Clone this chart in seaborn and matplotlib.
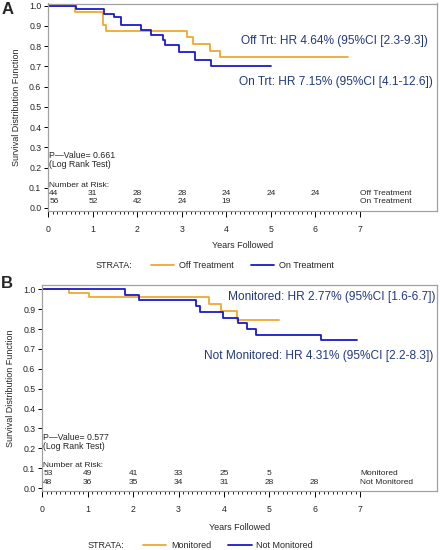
import numpy as np
import pandas as pd
import seaborn as sns
import matplotlib
matplotlib.use("Agg")
import matplotlib.pyplot as plt
from matplotlib.lines import Line2D

# ---------------- data ----------------
a_off_t = [0, 0.60, 1.22, 1.29, 3.11, 3.24, 3.63, 3.86, 6.74]
a_off_s = [1.0, 0.970, 0.907, 0.875, 0.845, 0.812, 0.778, 0.748, 0.748]
a_on_t = [0, 0.62, 1.26, 1.47, 1.64, 2.09, 2.30, 2.58, 2.62, 2.94, 3.30, 3.65, 5.01]
a_on_s = [1.0, 0.983, 0.961, 0.944, 0.905, 0.880, 0.856, 0.829, 0.804, 0.770, 0.733, 0.700, 0.700]

b_mon_t = [0, 0.59, 1.03, 3.68, 3.94, 4.28, 5.22]
b_mon_s = [1.0, 0.982, 0.962, 0.926, 0.890, 0.848, 0.848]
b_not_t = [0, 1.82, 2.13, 3.38, 3.47, 3.97, 4.30, 4.50, 4.71, 6.13, 6.93]
b_not_s = [1.0, 0.974, 0.947, 0.918, 0.886, 0.856, 0.830, 0.800, 0.772, 0.745, 0.745]

a_groups = ["Off Treatment", "On Treatment"]
b_groups = ["Monitored", "Not Monitored"]

a_risk_off = [44, 31, 28, 28, 24, 24, 24]
a_risk_on = [56, 52, 42, 24, 19]
b_risk_mon = [53, 49, 41, 33, 25, 5]
b_risk_not = [48, 36, 35, 34, 31, 28, 28]

a_pval = "0.661"
b_pval = "0.577"
a_hr = ["Off Trt: HR 4.64% (95%CI [2.3-9.3])", "On Trt: HR 7.15% (95%CI [4.1-12.6])"]
b_hr = ["Monitored: HR 2.77% (95%CI [1.6-6.7])", "Not Monitored: HR 4.31% (95%CI [2.2-8.3])"]

# ---------------- style ----------------
sns.set_style("ticks")
plt.rcParams['font.family'] = ['Liberation Sans', 'DejaVu Sans']

ORANGE = "#f0a830"
BLUE = "#1a1ac8"
NAVY = "#22397d"
GREY = "#a0a0a0"

fig = plt.figure(figsize=(4.4, 5.5), dpi=100)


def make_df(t1, s1, t2, s2, groups):
    return pd.concat([
        pd.DataFrame({"t": t1, "s": s1, "g": groups[0]}),
        pd.DataFrame({"t": t2, "s": s2, "g": groups[1]}),
    ], ignore_index=True)


def panel(rect, df, groups, xmax, ytop, pval, risk1, risk2, hr, hr_pos,
          ytxt, label, label_xy, xlab_y, leg_y, strata_x, leg_x):
    ax = fig.add_axes(rect)
    sns.lineplot(data=df, x="t", y="s", hue="g", hue_order=groups,
                 palette=[ORANGE, BLUE], drawstyle="steps-post",
                 estimator=None, sort=False, lw=1.3, legend=False, ax=ax)
    ax.set_xlim(0, xmax)
    ax.set_ylim(-0.015, ytop)
    ax.set_yticks(np.round(np.arange(0, 1.01, 0.1), 1))
    ax.set_yticklabels([f"{v:.1f}" for v in np.arange(0, 1.01, 0.1)])
    ax.set_xticks(range(8))
    ax.set_xticks([v for v in np.round(np.arange(0, 7.001, 0.1), 1) if v % 1 != 0], minor=True)
    ax.tick_params(axis="both", which="major", labelsize=6.3, length=3, width=0.7,
                   color="black", pad=2)
    ax.tick_params(axis="x", which="major", length=4, pad=6)
    ax.tick_params(axis="x", which="minor", length=2, width=0.6, color="black")
    for sp in ax.spines.values():
        sp.set_color(GREY)
        sp.set_linewidth(0.9)
    ax.set_xlabel("")
    ax.set_ylabel("Survival Distribution Function", fontsize=6.5, labelpad=6)

    fs = 6.0
    ax.text(0.02, ytxt[0], "P\u2014Value= " + pval, fontsize=6.3, va="center", ha="left")
    ax.text(0.02, ytxt[1], "(Log Rank Test)", fontsize=6.3, va="center", ha="left")
    ax.text(0.02, ytxt[2], "Number at Risk:", fontsize=fs, va="center", ha="left")
    for i, v in enumerate(risk1):
        ax.text(i if i else 0.02, ytxt[3], str(v), fontsize=fs, va="center",
                ha="center" if i else "left")
    for i, v in enumerate(risk2):
        ax.text(i if i else 0.02, ytxt[4], str(v), fontsize=fs, va="center",
                ha="center" if i else "left")
    ax.text(7, ytxt[3], groups[0], fontsize=fs, va="center", ha="left")
    ax.text(7, ytxt[4], groups[1], fontsize=fs, va="center", ha="left")

    for txt, (xp, yp) in zip(hr, hr_pos):
        fig.text(xp / 440, 1 - yp / 550, txt, fontsize=8.6, color=NAVY,
                 ha="right", va="center")

    fig.text(label_xy[0] / 440, 1 - label_xy[1] / 550, label, fontsize=12,
             fontweight="bold", ha="center", va="center")
    cx = (rect[0] + rect[0] + rect[2]) / 2
    fig.text(cx, 1 - xlab_y / 550, "Years Followed", fontsize=6.5,
             ha="center", va="center")
    fig.text(strata_x / 440, 1 - leg_y / 550, "STRATA:", fontsize=6.5,
             ha="left", va="center")
    handles = [Line2D([], [], color=ORANGE, lw=1.3), Line2D([], [], color=BLUE, lw=1.3)]
    fig.legend(handles, groups, loc="center left",
               bbox_to_anchor=(leg_x / 440, 1 - leg_y / 550), ncol=2, frameon=False,
               fontsize=6.5, handlelength=2.6, handletextpad=0.5, columnspacing=1.9,
               borderpad=0, borderaxespad=0)
    return ax


# Panel A
dfa = make_df(a_off_t, a_off_s, a_on_t, a_on_s, a_groups)
panel([48.3 / 440, 1 - 211 / 550, (437 - 48.3) / 440, (211 - 3.5) / 550],
      dfa, a_groups, (437 - 48.3) / 44.53, 1.011, a_pval, a_risk_off, a_risk_on,
      a_hr, [(428, 41), (433, 82)],
      [0.259, 0.215, 0.113, 0.074, 0.032], "A", (8, 10), 246, 266, 96, 151)

# Panel B
dfb = make_df(b_mon_t, b_mon_s, b_not_t, b_not_s, b_groups)
panel([42.3 / 440, 1 - 491 / 550, (437 - 42.3) / 440, (491 - 285) / 550],
      dfb, b_groups, (437 - 42.3) / 45.4, 1.022, b_pval, b_risk_mon, b_risk_not,
      b_hr, [(435, 297), (433, 356)],
      [0.254, 0.210, 0.115, 0.071, 0.029], "B", (7, 283), 527, 546, 88, 143)

fig.savefig("out.png", dpi=100)
